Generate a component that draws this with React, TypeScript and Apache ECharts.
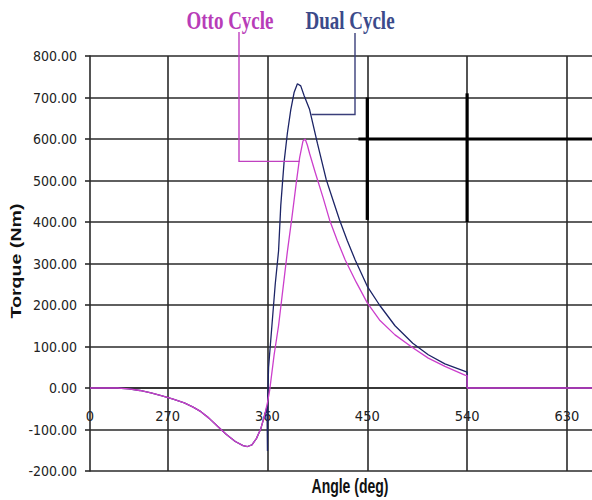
import React, { useEffect, useRef } from 'react';
import * as echarts from 'echarts';

// ---- axis definitions ----
const xMin = 200;
const xMax = 652.6;
const xTickValues = [270, 360, 450, 540, 630];
const xLabelValues = [200, 270, 360, 450, 540, 630];
const yMin = -200;
const yMax = 800;
const yStep = 100;

// ---- series data (angle deg, torque Nm) ----
const ottoAngle = [200, 225, 235, 245, 255, 265, 275, 285, 293, 300, 307, 315, 323, 331, 338, 342, 346, 350, 354, 357, 360, 362, 366, 370, 374, 378, 382, 386, 389, 392, 394, 396, 398, 403, 410, 416, 423, 430, 440, 450, 461, 475, 491, 505, 520, 538, 540, 540, 652.6];
const ottoTorque = [0, 0, -2, -6, -12, -19, -27, -36, -46, -57, -72, -92, -112, -129, -139, -141, -137, -122, -98, -70, -35, -5, 80, 150, 240, 330, 410, 495, 555, 595, 600, 585, 565, 520, 460, 405, 355, 309, 255, 205, 164, 128, 97, 72, 52, 31, 30, 0, 0];

const dualAngle = [200, 225, 235, 245, 255, 265, 275, 285, 293, 300, 307, 315, 323, 331, 338, 342, 346, 350, 354, 357, 359.6, 360, 360.3, 361, 364, 367, 370, 372, 375, 378, 381, 384, 387, 390, 393, 398, 405, 413, 420, 425, 432, 439, 450, 461, 475, 491, 505, 520, 540, 540, 652.6];
const dualTorque = [0, 0, -2, -6, -12, -19, -27, -36, -46, -57, -72, -92, -112, -129, -139, -141, -137, -122, -98, -70, -45, -152, -20, 50, 150, 250, 330, 440, 545, 615, 670, 712, 733, 728, 705, 671, 590, 502, 445, 405, 355, 309, 245, 200, 150, 108, 80, 58, 38, 0, 0];

// callout anchor points on curves
const ottoAnchor = [389, 546];
const dualAnchor = [399.7, 659];

const ottoLabel = 'Otto Cycle';
const dualLabel = 'Dual Cycle';
const xTitle = 'Angle (deg)';
const yTitle = 'Torque (Nm)';

const narrow = "'Liberation Sans Narrow', 'Arial Narrow', 'DejaVu Sans Condensed', 'Liberation Sans', sans-serif";
const gridColor = '#2a2a2a';
const ottoColor = '#cc3fcc';
const dualColor = '#1c2466';

const gridTop = 56;
const gridBottom = 29;
const chartH = 500;

const pairs = (a: number[], b: number[]) => a.map((v, i) => [v, b[i]]);

export default function App() {
  const ref = useRef<HTMLDivElement>(null);
  useEffect(() => {
    if (!ref.current) return;
    const chart = echarts.init(ref.current, null, { renderer: 'svg' });
    const gl = { color: gridColor, width: 1.6 };
    const gridH = chartH - gridTop - gridBottom;
    const zeroOffset = -((0 - yMin) / (yMax - yMin)) * gridH;
    chart.setOption({
      animation: false,
      backgroundColor: '#ffffff',
      grid: { left: 90, right: 0, top: gridTop, bottom: gridBottom },
      xAxis: {
        type: 'value',
        min: xMin,
        max: xMax,
        offset: zeroOffset,
        axisLine: { show: true, onZero: false, lineStyle: gl },
        axisTick: { show: false, customValues: xTickValues },
        axisLabel: {
          customValues: xLabelValues,
          showMinLabel: true,
          formatter: (v: number) => (v === xMin ? '0' : String(v)),
          margin: 20,
          fontSize: 14.5,
          fontFamily: narrow,
          color: '#222',
        },
        splitLine: { show: true, lineStyle: gl },
      },
      yAxis: {
        type: 'value',
        min: yMin,
        max: yMax,
        interval: yStep,
        axisLine: { show: true, onZero: false, lineStyle: gl },
        axisTick: { show: true, length: 5, lineStyle: gl },
        axisLabel: {
          formatter: (v: number) => v.toFixed(2),
          margin: 13,
          fontSize: 14,
          fontFamily: narrow,
          color: '#222',
        },
        splitLine: { show: true, lineStyle: gl },
      },
      series: [
        {
          name: dualLabel,
          type: 'line',
          data: pairs(dualAngle, dualTorque),
          showSymbol: false,
          lineStyle: { color: dualColor, width: 1.3 },
          itemStyle: { color: dualColor },
        },
        {
          name: ottoLabel,
          type: 'line',
          data: pairs(ottoAngle, ottoTorque),
          showSymbol: false,
          lineStyle: { color: ottoColor, width: 1.3 },
          itemStyle: { color: ottoColor },
        },
      ],
    });

    const px = (pt: number[]) => chart.convertToPixel({ gridIndex: 0 }, pt) as number[];
    const oA = px(ottoAnchor);
    const dA = px(dualAnchor);
    const a1 = px([450, 700]);
    const a2 = px([450, 405]);
    const b1 = px([540, 710]);
    const b2 = px([540, 400]);
    const c1 = px([442, 600]);
    const c2 = px([xMax, 600]);

    chart.setOption({
      graphic: [
        { type: 'line', z: 50, shape: { x1: a1[0], y1: a1[1], x2: a2[0], y2: a2[1] }, style: { stroke: '#000', lineWidth: 3.2 } },
        { type: 'line', z: 50, shape: { x1: b1[0], y1: b1[1], x2: b2[0], y2: b2[1] }, style: { stroke: '#000', lineWidth: 3.2 } },
        { type: 'line', z: 50, shape: { x1: c1[0], y1: c1[1], x2: c2[0], y2: c2[1] }, style: { stroke: '#000', lineWidth: 3.2 } },
        { type: 'polyline', z: 60, shape: { points: [[239, 32], [239, oA[1]], [oA[0], oA[1]]] }, style: { stroke: '#c040c0', lineWidth: 1.4, fill: 'none' } },
        { type: 'polyline', z: 60, shape: { points: [[355, 33], [355, dA[1]], [dA[0], dA[1]]] }, style: { stroke: '#3a3f7a', lineWidth: 1.4, fill: 'none' } },
        { type: 'text', z: 60, x: 230, y: 20, scaleY: 1.35, style: { text: ottoLabel, font: "bold 19px 'Liberation Serif', serif", fill: '#b83cb8', align: 'center', verticalAlign: 'middle', textAlign: 'center', textVerticalAlign: 'middle' } },
        { type: 'text', z: 60, x: 350, y: 20, scaleY: 1.35, style: { text: dualLabel, font: "bold 19px 'Liberation Serif', serif", fill: '#3b4a8a', align: 'center', verticalAlign: 'middle', textAlign: 'center', textVerticalAlign: 'middle' } },
        { type: 'text', z: 60, x: 350, y: 487, scaleY: 1.4, style: { text: xTitle, font: "bold 14px 'Liberation Sans', sans-serif", fill: '#111', align: 'center', verticalAlign: 'middle', textAlign: 'center', textVerticalAlign: 'middle' } },
        { type: 'text', z: 60, x: 16, y: 261, rotation: Math.PI / 2, scaleX: 1.4, style: { text: yTitle, font: "bold 14px 'Liberation Sans', sans-serif", fill: '#111', align: 'center', verticalAlign: 'middle', textAlign: 'center', textVerticalAlign: 'middle' } },
      ],
    });

    return () => chart.dispose();
  }, []);
  return <div ref={ref} style={{ position: 'fixed', left: 0, top: 0, width: 592, height: 500 }} />;
}
